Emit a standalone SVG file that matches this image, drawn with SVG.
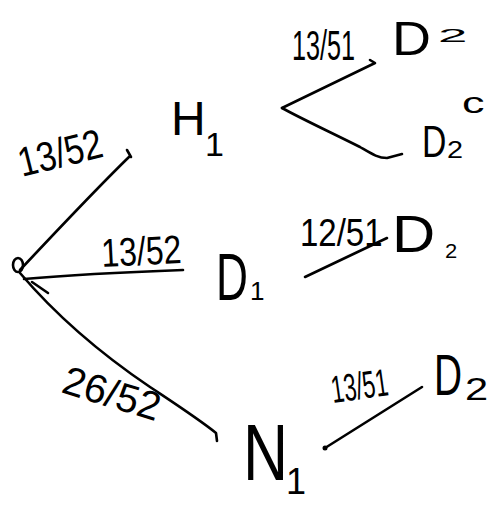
<svg xmlns="http://www.w3.org/2000/svg" width="501" height="507" viewBox="0 0 501 507">
<style>
.ln{fill:none;stroke:#000;stroke-width:2.6;stroke-linecap:round;stroke-linejoin:round}
text{font-family:"Liberation Sans",Arial,sans-serif;fill:#000}
</style>
<rect width="501" height="507" fill="#fff"/>
<g id="connectors">
<path class="ln" d="M20,270 C50,238 95,190 130,156 M127,150 L131,157"/>
<path class="ln" d="M24,279 C70,275 130,272 183,270"/>
<path class="ln" d="M20,273 C60,320 110,360 150,387 C180,407 200,420 216,433 L217,441"/>
<path class="ln" d="M32,282 L48,293"/>
<path class="ln" d="M282,108 L375,63 L370,60"/>
<path class="ln" d="M282,108 C300,118 330,132 360,147 C372,154 378,158 387,158 L402,154"/>
<path class="ln" d="M305,277 L387,238"/>
<path class="ln" d="M325,448 L422,387"/>
<circle cx="325" cy="448" r="2.5" fill="#000"/>
</g>
<g id="root"><ellipse class="ln" cx="18" cy="265" rx="5" ry="7"/></g>
<g id="H1"><text font-size="48" x="171" y="135">H</text><text font-size="34" x="205" y="156">1</text></g>
<g id="D1"><text font-size="66" transform="translate(216,300) scale(0.67,1)">D</text><text font-size="26" x="250" y="300">1</text></g>
<g id="N1"><text font-size="80" transform="translate(243,480) scale(0.78,1)">N</text><text font-size="36" x="286" y="494">1</text></g>
<g id="D2a"><text font-size="49" transform="translate(392,55) scale(1.1,1)">D</text><text font-size="24" transform="translate(438,42) scale(2.2,0.75)">2</text></g>
<g id="D2c"><text font-size="30" transform="translate(462,113) scale(1.5,1)">c</text><text font-size="45" transform="translate(422,157) scale(0.75,1)">D</text><text font-size="24" transform="translate(447,158) scale(1.2,1)">2</text></g>
<g id="D2b"><text font-size="52" transform="translate(392,252) scale(1.15,1)">D</text><text font-size="20" transform="translate(445,258) scale(1.1,1)">2</text></g>
<g id="D2d"><text font-size="58" transform="translate(434,395) scale(0.67,1)">D</text><text font-size="32" transform="translate(465,400) scale(1.3,1)">2</text></g>
<g id="labels">
<text font-size="36" transform="translate(22,177) rotate(-14) scale(0.95,1.15)">13/52</text>
<text font-size="32" transform="translate(102,267) rotate(-3) scale(1,1.25)">13/52</text>
<text font-size="40" transform="translate(60,392) rotate(17)">26/52</text>
<text font-size="28" transform="translate(292,60) scale(0.9,1.5)">13/51</text>
<text font-size="33" transform="translate(300,246) scale(1,1.15)">12/51</text>
<text font-size="24" transform="translate(333,403) rotate(-8) scale(0.95,1.6)">13/51</text>
</g>
</svg>
